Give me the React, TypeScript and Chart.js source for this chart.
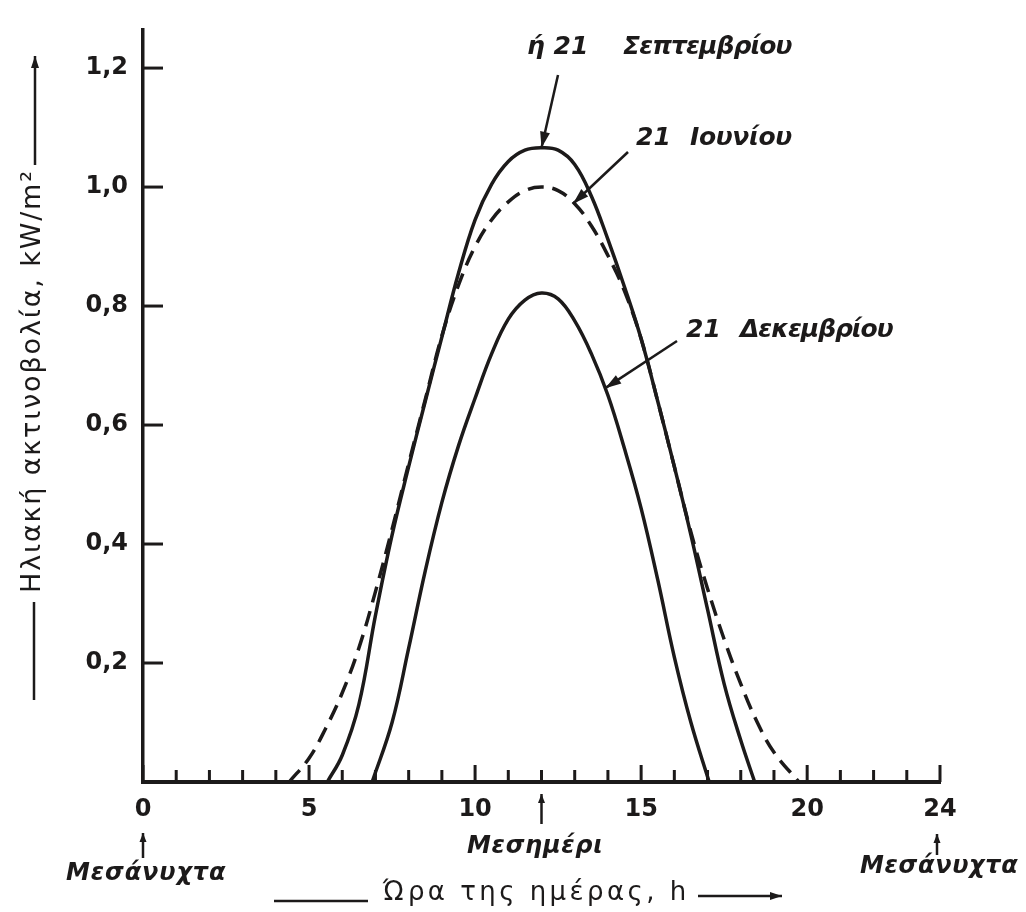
import { useEffect, useRef } from 'react';
import { Chart, registerables } from 'chart.js';

Chart.register(...registerables);

// ---- Data (hours of day, solar irradiance kW/m²) ----
const hoursSep = [5.55, 6.0, 6.5, 7.0, 7.5, 8.0, 8.5, 9.0, 9.5, 10.0, 10.5, 11.0, 11.5, 12.0, 12.5, 13.0, 13.5, 14.0, 14.5, 15.0, 15.5, 16.0, 16.5, 17.0, 17.5, 18.0, 18.42];
const valuesSep = [0, 0.045, 0.13, 0.28, 0.415, 0.53, 0.64, 0.748, 0.855, 0.945, 1.005, 1.043, 1.062, 1.066, 1.062, 1.038, 0.985, 0.912, 0.832, 0.745, 0.64, 0.53, 0.415, 0.29, 0.165, 0.07, 0];

const hoursJun = [4.4, 5.0, 5.5, 6.0, 6.5, 7.0, 7.5, 8.0, 8.5, 9.0, 9.5, 10.0, 10.5, 11.0, 11.5, 12.0, 12.5, 13.0, 13.5, 14.0, 14.5, 15.0, 15.5, 16.0, 16.5, 17.0, 17.5, 18.0, 18.5, 19.0, 19.75];
const valuesJun = [0, 0.04, 0.09, 0.15, 0.225, 0.32, 0.425, 0.535, 0.643, 0.75, 0.835, 0.9, 0.945, 0.975, 0.994, 1.0, 0.994, 0.972, 0.935, 0.885, 0.825, 0.745, 0.64, 0.53, 0.42, 0.325, 0.24, 0.165, 0.1, 0.05, 0];

const hoursDec = [6.9, 7.5, 8.0, 8.5, 9.0, 9.5, 10.0, 10.5, 11.0, 11.5, 12.0, 12.5, 13.0, 13.5, 14.0, 14.5, 15.0, 15.5, 16.0, 16.5, 17.05];
const valuesDec = [0, 0.1, 0.225, 0.355, 0.47, 0.565, 0.645, 0.72, 0.778, 0.81, 0.822, 0.812, 0.775, 0.72, 0.65, 0.56, 0.46, 0.34, 0.21, 0.1, 0];

const xTickValues = [0, 1, 2, 3, 4, 5, 6, 7, 8, 9, 10, 11, 12, 13, 14, 15, 16, 17, 18, 19, 20, 21, 22, 23, 24];
const xTickLabels = [0, 5, 10, 15, 20, 24];
const yTickValues = [0.2, 0.4, 0.6, 0.8, 1.0, 1.2];

const INK = '#1c1a1a';
const FAMILY = '"DejaVu Sans", sans-serif';

function toPoints(xs: number[], ys: number[]) {
  return xs.map((x, i) => ({ x, y: ys[i] }));
}

function arrowHead(ctx: CanvasRenderingContext2D, fx: number, fy: number, tx: number, ty: number, len = 14, half = 5) {
  const a = Math.atan2(ty - fy, tx - fx);
  ctx.beginPath();
  ctx.moveTo(tx, ty);
  ctx.lineTo(tx - len * Math.cos(a) + half * Math.sin(a), ty - len * Math.sin(a) - half * Math.cos(a));
  ctx.lineTo(tx - len * Math.cos(a) - half * Math.sin(a), ty - len * Math.sin(a) + half * Math.cos(a));
  ctx.closePath();
  ctx.fill();
}

function arrow(ctx: CanvasRenderingContext2D, fx: number, fy: number, tx: number, ty: number, len = 14, half = 5) {
  ctx.beginPath();
  ctx.moveTo(fx, fy);
  ctx.lineTo(tx, ty);
  ctx.stroke();
  arrowHead(ctx, fx, fy, tx, ty, len, half);
}

// draw text starting at x, with letter spacing adjusted to a target width
function fitText(ctx: CanvasRenderingContext2D, text: string, x: number, y: number, width: number, font: string) {
  ctx.font = font;
  (ctx as any).letterSpacing = '0px';
  const w = ctx.measureText(text).width;
  const n = [...text].length;
  const ls = n > 1 ? (width - w) / (n - 0.5) : 0;
  (ctx as any).letterSpacing = `${ls.toFixed(2)}px`;
  ctx.textAlign = 'left';
  ctx.textBaseline = 'middle';
  ctx.fillText(text, x, y);
  (ctx as any).letterSpacing = '0px';
}

const decor = {
  id: 'decor',
  afterDraw(chart: any) {
    const ctx: CanvasRenderingContext2D = chart.ctx;
    const xs = chart.scales.x;
    const ys = chart.scales.y;
    const area = chart.chartArea;
    ctx.save();
    ctx.strokeStyle = INK;
    ctx.fillStyle = INK;
    ctx.lineCap = 'butt';

    // inward tick marks
    ctx.lineWidth = 3;
    xTickValues.forEach((v) => {
      const px = xs.getPixelForValue(v);
      const len = xTickLabels.includes(v) ? 17 : 12;
      ctx.beginPath();
      ctx.moveTo(px, area.bottom);
      ctx.lineTo(px, area.bottom - len);
      ctx.stroke();
    });
    yTickValues.forEach((v) => {
      const py = ys.getPixelForValue(v);
      ctx.beginPath();
      ctx.moveTo(area.left, py);
      ctx.lineTo(area.left + 20, py);
      ctx.stroke();
    });

    // pointer arrows to the curves
    ctx.lineWidth = 2.5;
    arrow(ctx, 558, 75, xs.getPixelForValue(12), ys.getPixelForValue(1.066), 16, 5);
    arrow(ctx, 628, 152, xs.getPixelForValue(12.95), ys.getPixelForValue(0.972), 16, 5);
    arrow(ctx, 677, 341, xs.getPixelForValue(13.92), ys.getPixelForValue(0.662), 16, 5);

    // curve annotations
    const annFont = `italic bold 25px ${FAMILY}`;
    ctx.font = annFont;
    ctx.textAlign = 'left';
    ctx.textBaseline = 'middle';
    ctx.fillText('ή 21', 527, 47);
    fitText(ctx, 'Σεπτεμβρίου', 623, 47, 169, annFont);
    ctx.font = annFont;
    ctx.fillText('21', 636, 138);
    fitText(ctx, 'Ιουνίου', 690, 138, 102, annFont);
    ctx.font = annFont;
    ctx.fillText('21', 686, 330);
    fitText(ctx, 'Δεκεμβρίου', 740, 330, 153, annFont);

    // up arrows under the x axis
    ctx.lineWidth = 2.5;
    const x0 = xs.getPixelForValue(0);
    const x12 = xs.getPixelForValue(12);
    const x24 = xs.getPixelForValue(24);
    arrow(ctx, x0, 858, x0, 833, 9, 3.5);
    arrow(ctx, x12, 824, x12, 794, 9, 3.5);
    arrow(ctx, x24 - 3, 855, x24 - 3, 834, 9, 3.5);

    const noteFont = `italic bold 24px ${FAMILY}`;
    fitText(ctx, 'Μεσάνυχτα', 66, 874, 160, noteFont);
    fitText(ctx, 'Μεσημέρι', 467, 847, 136, noteFont);
    fitText(ctx, 'Μεσάνυχτα', 860, 867, 158, noteFont);

    // x axis title with lines
    ctx.lineWidth = 2.5;
    ctx.beginPath();
    ctx.moveTo(274, 901);
    ctx.lineTo(368, 901);
    ctx.stroke();
    arrow(ctx, 698, 896, 782, 896, 12, 4);
    fitText(ctx, 'Ώρα της ημέρας, h', 383, 893, 305, `26px ${FAMILY}`);

    // y axis title (rotated) with lines
    ctx.beginPath();
    ctx.moveTo(34, 700);
    ctx.lineTo(34, 602);
    ctx.stroke();
    arrow(ctx, 35, 165, 35, 56, 12, 4);
    ctx.save();
    ctx.translate(33, 593);
    ctx.rotate(-Math.PI / 2);
    fitText(ctx, 'Ηλιακή ακτινοβολία, kW/m²', 0, 0, 423, `27px ${FAMILY}`);
    ctx.restore();

    ctx.restore();
  },
};

export default function App() {
  const ref = useRef<HTMLCanvasElement | null>(null);

  useEffect(() => {
    if (!ref.current) return;
    const lineBase = {
      borderColor: INK,
      borderWidth: 3.5,
      pointRadius: 0,
      fill: false,
      tension: 0.4,
    };
    const chart = new Chart(ref.current, {
      type: 'line',
      data: {
        datasets: [
          { ...lineBase, label: 'ή 21 Σεπτεμβρίου', data: toPoints(hoursSep, valuesSep) },
          { ...lineBase, label: '21 Ιουνίου', data: toPoints(hoursJun, valuesJun), borderDash: [16, 9] },
          { ...lineBase, label: '21 Δεκεμβρίου', data: toPoints(hoursDec, valuesDec) },
        ],
      },
      options: {
        responsive: false,
        animation: false,
        devicePixelRatio: 1,
        layout: { padding: { top: 13, right: 86, left: 8, bottom: 0 } },
        plugins: { legend: { display: false }, tooltip: { enabled: false } },
        scales: {
          x: {
            type: 'linear',
            min: 0,
            max: 24,
            afterBuildTicks: (s: any) => {
              s.ticks = xTickValues.map((v) => ({ value: v }));
            },
            afterFit: (s: any) => {
              s.height = 130;
            },
            grid: { display: false, drawTicks: false },
            border: { display: true, color: INK, width: 4 },
            ticks: {
              autoSkip: false,
              maxRotation: 0,
              padding: 13,
              color: INK,
              font: { family: FAMILY, size: 24, weight: 'bold' },
              callback: (v: any) => (xTickLabels.includes(Number(v)) ? String(v) : ''),
            },
          },
          y: {
            type: 'linear',
            min: 0,
            max: 1.265,
            afterBuildTicks: (s: any) => {
              s.ticks = yTickValues.map((v) => ({ value: v }));
            },
            afterFit: (s: any) => {
              s.width = 135;
            },
            grid: { display: false, drawTicks: false },
            border: { display: true, color: INK, width: 3.5 },
            ticks: {
              autoSkip: false,
              padding: 15,
              color: INK,
              font: { family: FAMILY, size: 24, weight: 'bold' },
              callback: (v: any) => Number(v).toFixed(1).replace('.', ','),
            },
          },
        },
      },
      plugins: [decor],
    } as any);
    return () => chart.destroy();
  }, []);

  return (
    <div style={{ position: 'fixed', left: 0, top: 0, width: 1026, height: 912, background: '#fff' }}>
      <canvas ref={ref} width={1026} height={912} style={{ display: 'block', width: 1026, height: 912 }} />
    </div>
  );
}
